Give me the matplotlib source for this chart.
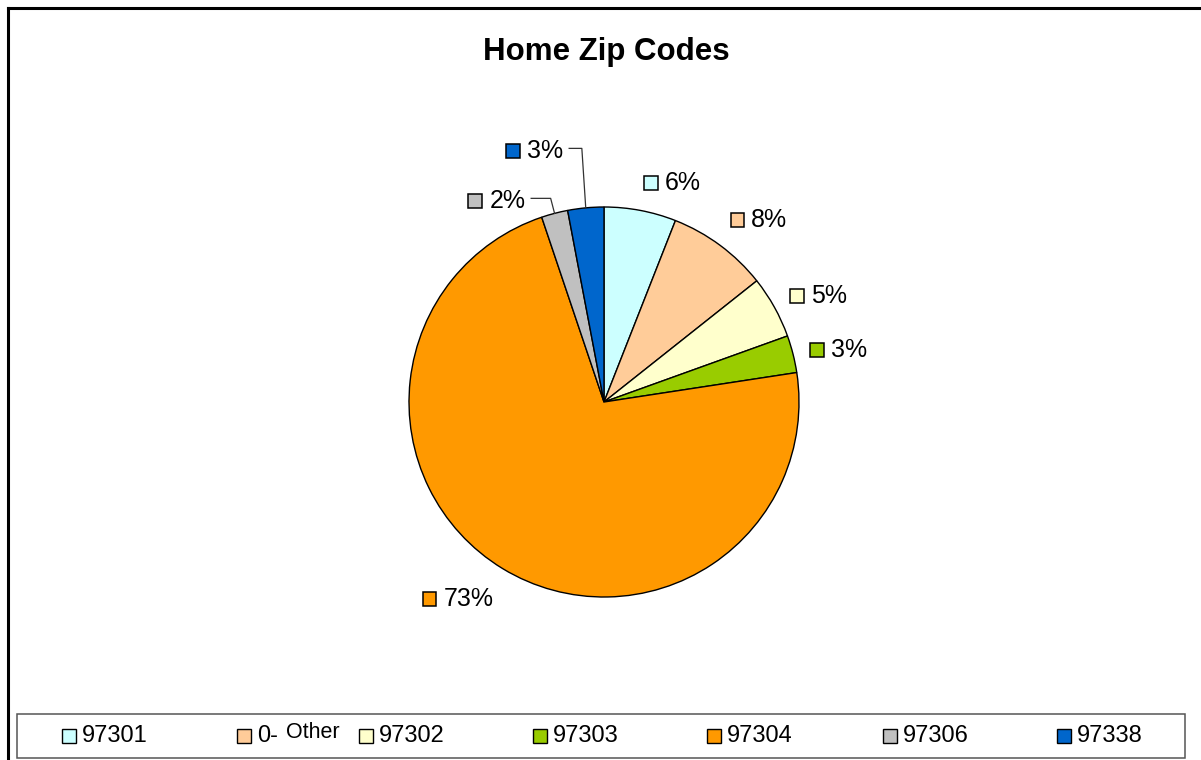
import matplotlib
matplotlib.use('Agg')
import numpy as np
import matplotlib.pyplot as plt
from matplotlib.patches import Rectangle
from matplotlib.lines import Line2D
from matplotlib.offsetbox import AnnotationBbox, DrawingArea, TextArea, HPacker

plt.rcParams['font.family'] = 'Liberation Sans'

# data
zips = ['97301', '0- Other', '97302', '97303', '97304', '97306', '97338']
shares = [6.0, 8.4, 5.2, 3.1, 72.6, 2.2, 3.0]
colors = ['#CCFFFF', '#FFCC99', '#FFFFCC', '#99CC00', '#FF9900', '#C0C0C0', '#0066CC']

W, H = 1201, 760
fig = plt.figure(figsize=(W / 100, H / 100), dpi=100)


def fx(x):
    return x / W


def fy(y):
    return 1 - y / H


# pie axes covers the whole figure, 1 data unit = 195 px, centre at (604, 402)
R = 195.0
cx, cy = 604.0, 402.0
ax = fig.add_axes([0, 0, 1, 1])
wedges, _ = ax.pie(shares, colors=colors, startangle=90, counterclock=False,
                   wedgeprops=dict(edgecolor='black', linewidth=1.0))
ax.set_aspect('auto')
ax.set_xlim(-cx / R, (W - cx) / R)
ax.set_ylim(-(H - cy) / R, cy / R)
ax.axis('off')

# small labels get a leader line (offset from the arc point, in radius units)
leaders = {5: (-0.15, 0.077), 6: (-0.115, 0.305)}

for i, w in enumerate(wedges):
    mid = np.deg2rad((w.theta1 + w.theta2) / 2)
    c, s = np.cos(mid), np.sin(mid)
    da = DrawingArea(10, 10, 0, 0)
    da.add_artist(Rectangle((0, 0), 10, 10, facecolor=colors[i], edgecolor='black', lw=1.1))
    ta = TextArea(f"{shares[i]:.0f}%", textprops=dict(fontsize=18))
    box = HPacker(children=[da, ta], align='center', pad=0, sep=5)
    if i in leaders:
        dx, dy = leaders[i]
        x0, y0 = c, s
        xl, yl = x0 + dx, y0 + dy
        ax.plot([x0, x0 - 0.02, xl + 0.03], [y0, yl, yl], color='#333333', lw=0.9)
        xy, align = (xl, yl - 0.012), (1, 0.5)
    else:
        yoff = 0.0 if 0.7 < s < 0.9 else -0.02
        xy = (1.09 * c, 1.1 * s + yoff)
        align = (0 if c > 0 else 1, 0.5 - 0.5 * s)
    ab = AnnotationBbox(box, xy, xycoords='data', box_alignment=align,
                        frameon=False, pad=0, annotation_clip=False)
    ax.add_artist(ab)

fig.text(fx(606), fy(52), 'Home Zip Codes', fontsize=22.5, fontweight='bold',
         ha='center', va='center')

# outer chart border (only top and left visible)
fig.add_artist(Line2D([fx(8), fx(W)], [fy(8), fy(8)], color='black', lw=2.2))
fig.add_artist(Line2D([fx(8), fx(8)], [fy(8), fy(H)], color='black', lw=2.2))

# legend
fig.add_artist(Rectangle((fx(17), fy(758)), fx(1185) - fx(17), fy(714) - fy(758),
                         transform=fig.transFigure, facecolor='white',
                         edgecolor='#555555', lw=1.1))
legend_x = [69, 244, 366, 540, 714, 890, 1064]
sq = 14
for i, name in enumerate(zips):
    x = legend_x[i]
    fig.add_artist(Rectangle((fx(x - sq / 2), fy(736 + sq / 2)), sq / W, sq / H,
                             transform=fig.transFigure, facecolor=colors[i],
                             edgecolor='black', lw=1.0))
    tx = x + sq / 2 + 6
    if name.startswith('0-'):
        head, tail = name.split(' ', 1)
        fig.text(fx(tx), fy(742), head, fontsize=17, ha='left', va='baseline')
        # "Other" sits a bit higher and smaller, like in the original
        fig.text(fx(286), fy(738), tail, fontsize=15.5, ha='left', va='baseline')
    else:
        fig.text(fx(tx), fy(742), name, fontsize=17, ha='left', va='baseline')

fig.savefig('out.png', dpi=100)
